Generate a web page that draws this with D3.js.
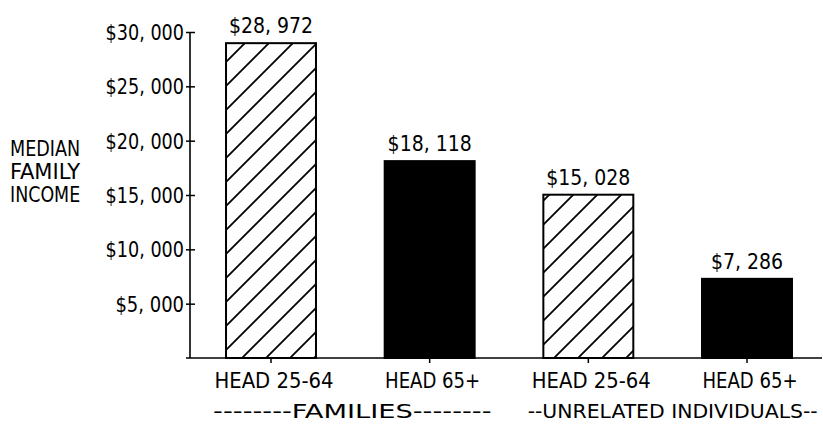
<!DOCTYPE html>
<html>
<head>
<meta charset="utf-8">
<script src="https://cdn.jsdelivr.net/npm/d3@7"></script>
<style>
  body { margin: 0; background: #fff; }
  text { font-family: "Liberation Sans Narrow", "DejaVu Sans Condensed", "DejaVu Sans", sans-serif; font-size: 21px; fill: #000; }
</style>
</head>
<body>
<div id="chart"></div>
<script>
const categories = ["HEAD 25-64", "HEAD 65+", "HEAD 25-64", "HEAD 65+"];
const values = [28972, 18118, 15028, 7286];
const hatched = [true, false, true, false];
const groups = ["--------FAMILIES--------", "--UNRELATED INDIVIDUALS--"];
const groupOf = [0, 0, 1, 1];
const yTicks = [5000, 10000, 15000, 20000, 25000, 30000];
const yTitle = ["MEDIAN", "FAMILY", "INCOME"];

const width = 823, height = 426;
const x0 = 190, baseY = 358, topY = 32;
const fontFamily = '"Liberation Sans Narrow", "DejaVu Sans Condensed", "DejaVu Sans", sans-serif';

const money = v => "$" + d3.format(",")(v).replace(",", ", ");

const svg = d3.select("#chart").append("svg")
  .attr("width", width)
  .attr("height", height);

svg.append("defs").append("pattern")
  .attr("id", "hatch")
  .attr("patternUnits", "userSpaceOnUse")
  .attr("width", 24).attr("height", 24)
  .append("path")
  .attr("d", "M-6,6 L6,-6 M0,24 L24,0 M18,30 L30,18")
  .attr("stroke", "#000")
  .attr("stroke-width", 1.8);

const y = d3.scaleLinear().domain([0, 30000]).range([baseY, topY]);
const x = d3.scaleBand()
  .domain(d3.range(values.length))
  .range([x0, 828])
  .paddingInner(0.433)
  .paddingOuter(0.227);

// fixed-advance text, like the plotter lettering
function label(sel, adv) {
  sel.attr("textLength", d => d.length * adv)
    .attr("lengthAdjust", "spacingAndGlyphs");
}

// bars
svg.selectAll(".bar")
  .data(values)
  .enter().append("rect")
  .attr("class", "bar")
  .attr("x", (d, i) => x(i))
  .attr("y", d => y(d))
  .attr("width", x.bandwidth())
  .attr("height", d => baseY - y(d))
  .attr("fill", (d, i) => hatched[i] ? "url(#hatch)" : "#000")
  .attr("stroke", "#000")
  .attr("stroke-width", 2);

// value labels
svg.selectAll(".val")
  .data(values)
  .enter().append("text")
  .attr("class", "val")
  .attr("x", (d, i) => x(i) + x.bandwidth() / 2)
  .attr("y", d => y(d) - 10)
  .attr("text-anchor", "middle")
  .text(d => money(d))
  .each(function(d) { label(d3.select(this), 10.2); });

// y axis
const yAxis = d3.axisLeft(y)
  .tickValues(yTicks)
  .tickSize(0)
  .tickFormat(money);
const gy = svg.append("g")
  .attr("transform", `translate(${x0},0)`)
  .call(yAxis)
  .attr("font-family", fontFamily)
  .attr("font-size", 21);
gy.select(".domain").remove();
gy.selectAll("text")
  .attr("x", -6)
  .attr("dy", "0.35em")
  .attr("fill", "#000")
  .attr("textLength", d => money(d).length * 9.8)
  .attr("lengthAdjust", "spacingAndGlyphs");
gy.selectAll(".tick").append("line")
  .attr("x1", -4).attr("x2", 5)
  .attr("stroke", "#000").attr("stroke-width", 1.5);
svg.append("line")
  .attr("x1", x0).attr("x2", x0)
  .attr("y1", topY).attr("y2", baseY)
  .attr("stroke", "#000").attr("stroke-width", 1.6);

// baseline with category ticks
svg.append("line")
  .attr("x1", 186).attr("x2", 822)
  .attr("y1", baseY).attr("y2", baseY)
  .attr("stroke", "#000").attr("stroke-width", 1.6);
const xAxis = d3.axisBottom(x)
  .tickSize(5)
  .tickFormat(i => categories[i]);
const gx = svg.append("g")
  .attr("transform", `translate(0,${baseY})`)
  .call(xAxis)
  .attr("font-family", fontFamily)
  .attr("font-size", 21);
gx.select(".domain").remove();
gx.selectAll("line").attr("stroke", "#000").attr("stroke-width", 1.5);
gx.selectAll("text")
  .attr("y", 30)
  .attr("dy", 0)
  .attr("x", 3)
  .attr("fill", "#000")
  .attr("textLength", i => categories[i].length * 11.9)
  .attr("lengthAdjust", "spacingAndGlyphs");

// group labels
svg.selectAll(".grp")
  .data(groups)
  .enter().append("text")
  .attr("class", "grp")
  .attr("x", (g, gi) => {
    const idx = d3.range(values.length).filter(i => groupOf[i] === gi);
    return (x(idx[0]) + x(idx[idx.length - 1]) + x.bandwidth()) / 2 + (gi ? 5 : 2);
  })
  .attr("y", 418)
  .attr("text-anchor", "middle")
  .style("font-size", "20px")
  .text(d => d)
  .each(function(d) { label(d3.select(this), 11.6); });

// y title
svg.selectAll(".ytitle")
  .data(yTitle)
  .enter().append("text")
  .attr("class", "ytitle")
  .attr("x", 10)
  .attr("y", (d, i) => 156 + i * 23)
  .text(d => d)
  .each(function(d) { label(d3.select(this), 11.7); });
</script>
</body>
</html>
